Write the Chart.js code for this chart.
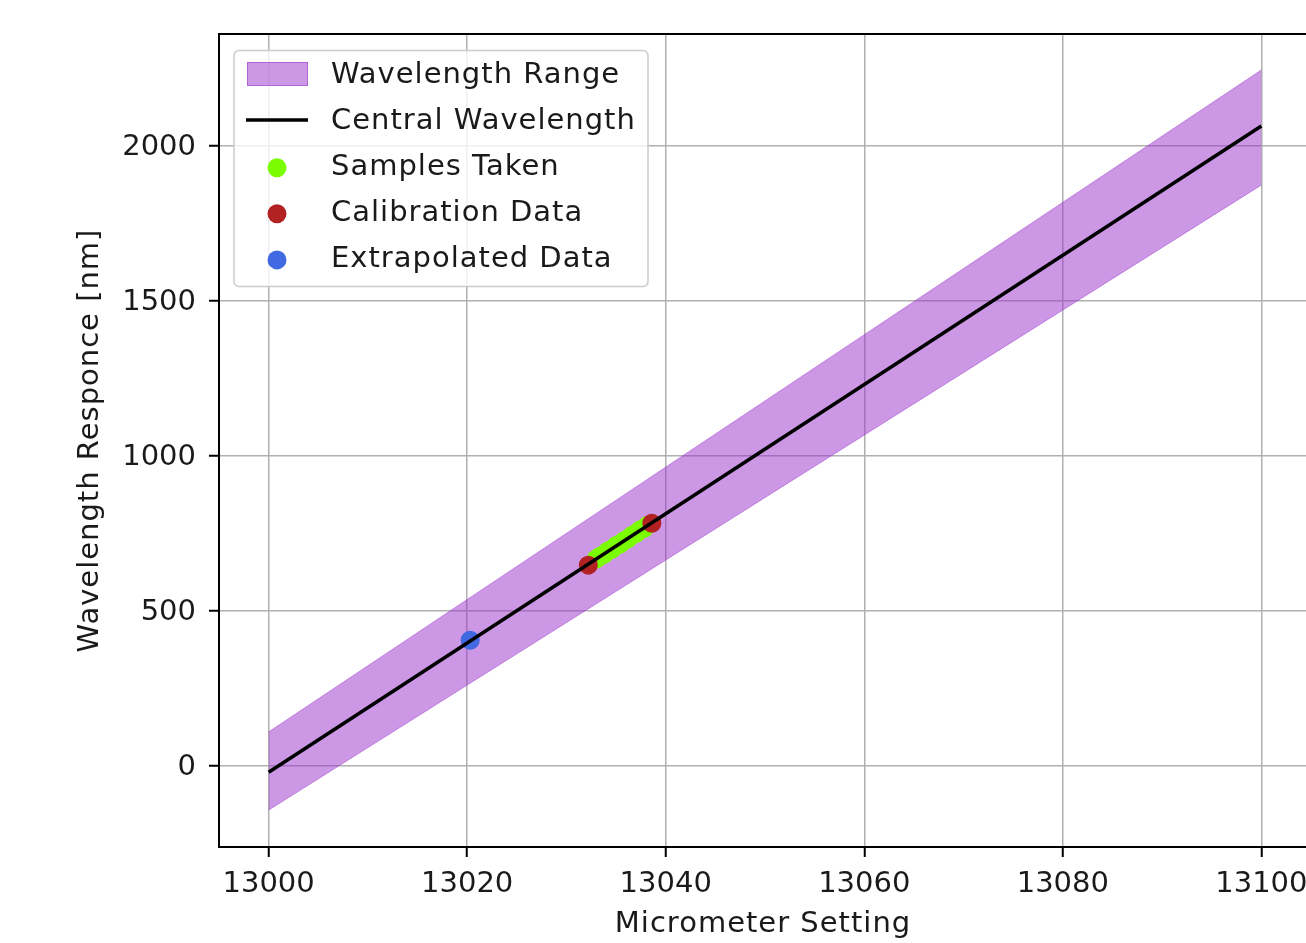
<!DOCTYPE html>
<html>
<head>
<meta charset="utf-8">
<script src="https://cdn.jsdelivr.net/npm/chart.js@4.4.1/dist/chart.umd.min.js"></script>
<style>
  html, body { margin: 0; padding: 0; background: #fff; overflow: hidden; }
  canvas { display: block; }
</style>
</head>
<body>
<canvas id="chart" width="1330" height="943"></canvas>
<script>
// values
const rangeX    = [13000, 13100];
const centralNm = [-20, 2064];
const upperNm   = [110, 2245];
const lowerNm   = [-142, 1874];

const sampleX = [13033.0, 13033.4, 13033.8, 13034.2, 13034.6, 13035.0, 13035.4,
                 13035.8, 13036.2, 13036.6, 13037.0, 13037.4, 13037.8, 13038.2];
const sampleY = [668, 677, 683, 694, 700, 711, 716, 727, 733, 744, 750, 761, 766, 777];

const calibX = [13032.2, 13038.6];
const calibY = [648, 783];

const extrapX = [13020.3];
const extrapY = [406];

const xTicks  = [13000, 13020, 13040, 13060, 13080, 13100];
const yTicks  = [0, 500, 1000, 1500, 2000];
const xLimits = [12995, 13105];
const yLimits = [-261, 2361];

const legendLabels = ["Wavelength Range", "Central Wavelength", "Samples Taken",
                      "Calibration Data", "Extrapolated Data"];

const FONT = "'DejaVu Sans', sans-serif";
const TEXT = "#1a1a1a";
const BAND = "rgba(153,50,204,0.5)";

const pts = (xs, ys) => xs.map((x, i) => ({ x, y: ys[i] }));

// matplotlib-style legend box inside the axes
const legendPlugin = {
  id: "mplLegend",
  afterDatasetsDraw(chart) {
    const ctx = chart.ctx;
    ctx.save();
    ctx.beginPath();
    ctx.roundRect(234, 50.5, 414, 236, 5);
    ctx.fillStyle = "rgba(255,255,255,0.8)";
    ctx.fill();
    ctx.strokeStyle = "#cccccc";
    ctx.lineWidth = 1.5;
    ctx.stroke();

    ctx.font = `29px ${FONT}`;
    ctx.letterSpacing = "1px";
    ctx.textAlign = "left";
    ctx.textBaseline = "alphabetic";
    let row = 0;
    chart.data.datasets.forEach((ds) => {
      if (!ds.legendKind) return;
      const cy = 74 + row * 46.1;
      if (ds.legendKind === "patch") {
        ctx.fillStyle = ds.backgroundColor;
        ctx.fillRect(247, cy - 12, 61, 24);
        ctx.strokeStyle = ds.borderColor;
        ctx.lineWidth = 1;
        ctx.strokeRect(247.5, cy - 11.5, 60, 23);
      } else if (ds.legendKind === "line") {
        ctx.strokeStyle = ds.borderColor;
        ctx.lineWidth = ds.borderWidth;
        ctx.beginPath();
        ctx.moveTo(246, cy);
        ctx.lineTo(308, cy);
        ctx.stroke();
      } else {
        ctx.fillStyle = ds.backgroundColor;
        ctx.beginPath();
        ctx.arc(277, cy + 1.5, ds.pointRadius, 0, Math.PI * 2);
        ctx.fill();
      }
      ctx.fillStyle = TEXT;
      ctx.fillText(ds.label, 331, cy + 9);
      row++;
    });
    ctx.restore();
  },
};

// top spine + axis titles
const framePlugin = {
  id: "frame",
  afterDraw(chart) {
    const { ctx, chartArea: a } = chart;
    ctx.save();
    ctx.strokeStyle = "#000";
    ctx.lineWidth = 2;
    ctx.beginPath();
    ctx.moveTo(a.left - 1, a.top);
    ctx.lineTo(a.right + 1, a.top);
    ctx.stroke();

    ctx.fillStyle = TEXT;
    ctx.font = `29px ${FONT}`;
    ctx.letterSpacing = "1px";
    ctx.textAlign = "center";
    ctx.textBaseline = "alphabetic";
    ctx.fillText("Micrometer Setting", 763, 932);

    ctx.translate(98, (a.top + a.bottom) / 2);
    ctx.rotate(-Math.PI / 2);
    ctx.fillText("Wavelength Responce [nm]", 0, 0);
    ctx.restore();
  },
};

const ctx = document.getElementById("chart").getContext("2d");
new Chart(ctx, {
  type: "scatter",
  data: {
    datasets: [
      {
        type: "line",
        label: "upper",
        data: pts(rangeX, upperNm),
        borderColor: BAND,
        borderWidth: 1,
        pointRadius: 0,
        fill: false,
        order: 10,
      },
      {
        type: "line",
        label: legendLabels[0],
        legendKind: "patch",
        data: pts(rangeX, lowerNm),
        borderColor: BAND,
        backgroundColor: BAND,
        borderWidth: 1,
        pointRadius: 0,
        fill: "-1",
        order: 9,
      },
      {
        type: "line",
        label: legendLabels[1],
        legendKind: "line",
        data: pts(rangeX, centralNm),
        borderColor: "#000",
        borderWidth: 3.5,
        pointRadius: 0,
        fill: false,
        order: 0,
      },
      {
        label: legendLabels[2],
        legendKind: "marker",
        data: pts(sampleX, sampleY),
        backgroundColor: "#7CFC00",
        borderWidth: 0,
        pointRadius: 9.5,
        order: 3,
      },
      {
        label: legendLabels[3],
        legendKind: "marker",
        data: pts(calibX, calibY),
        backgroundColor: "#B22222",
        borderWidth: 0,
        pointRadius: 9.5,
        order: 2,
      },
      {
        label: legendLabels[4],
        legendKind: "marker",
        data: pts(extrapX, extrapY),
        backgroundColor: "#4169E1",
        borderWidth: 0,
        pointRadius: 9.5,
        order: 2,
      },
    ],
  },
  options: {
    responsive: false,
    animation: false,
    events: [],
    layout: { padding: { left: 0, top: 34, right: 19, bottom: 0 } },
    plugins: { legend: { display: false }, tooltip: { enabled: false } },
    scales: {
      x: {
        type: "linear",
        min: xLimits[0],
        max: xLimits[1],
        afterBuildTicks: (s) => { s.ticks = xTicks.map((v) => ({ value: v })); },
        afterFit: (s) => { s.height = 96; },
        ticks: {
          font: { family: FONT, size: 29 }, color: TEXT, padding: 10, maxRotation: 0,
          callback: (v) => String(v),
        },
        grid: { color: "#b0b0b0", lineWidth: 1.5, tickLength: 10, tickColor: "#000", tickWidth: 2 },
        border: { display: true, color: "#000", width: 2 },
      },
      y: {
        type: "linear",
        min: yLimits[0],
        max: yLimits[1],
        afterBuildTicks: (s) => { s.ticks = yTicks.map((v) => ({ value: v })); },
        afterFit: (s) => { s.width = 219; },
        ticks: {
          font: { family: FONT, size: 29 }, color: TEXT, padding: 13, labelOffset: 1.5,
          callback: (v) => String(v),
        },
        grid: { color: "#b0b0b0", lineWidth: 1.5, tickLength: 10, tickColor: "#000", tickWidth: 2 },
        border: { display: true, color: "#000", width: 2 },
      },
    },
  },
  plugins: [legendPlugin, framePlugin],
});
</script>
</body>
</html>
